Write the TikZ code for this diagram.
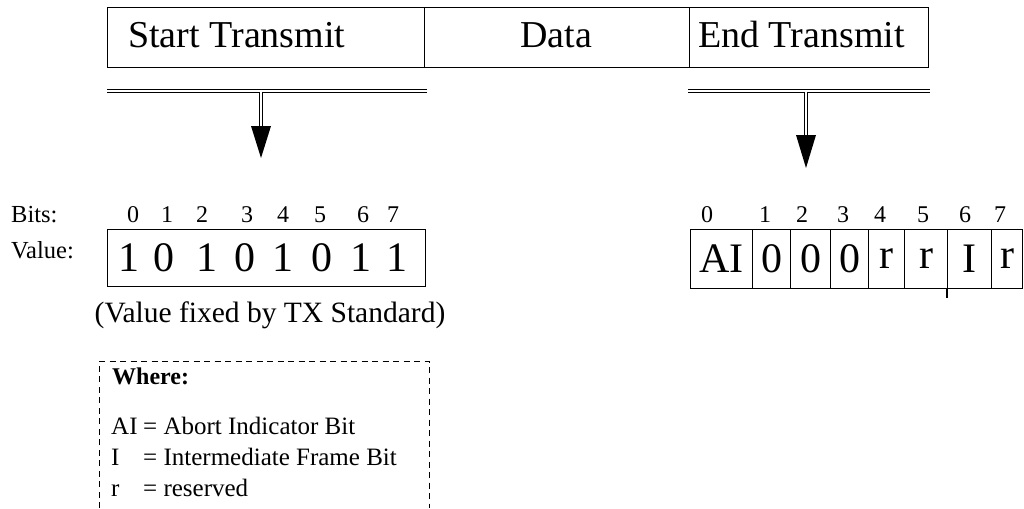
\documentclass[tikz,border=0pt]{standalone}
\usepackage{fontspec}
\setmainfont{Liberation Serif}
\begin{document}
\begin{tikzpicture}[x=1pt,y=-1pt,
  cell/.style={draw,line width=1.1pt,minimum height=60pt,inner sep=0pt,anchor=north west},
  reg/.style={draw,line width=1.1pt,inner sep=0pt,anchor=north west},
  big/.style={font=\fontsize{38}{40}\selectfont,inner sep=0pt},
  dig/.style={font=\fontsize{42}{44}\selectfont,inner sep=0pt,anchor=base},
  small/.style={font=\fontsize{24.5}{26}\selectfont,inner sep=0pt},
  bitn/.style={font=\fontsize{24}{26}\selectfont,inner sep=0pt,anchor=base},
  legend/.style={font=\fontsize{25}{27}\selectfont,inner sep=0pt,anchor=base west},
  dbl/.style={double,double distance=2.4pt,line width=0.9pt},
  tipfill/.style={fill=black}]
\useasboundingbox (0,0) rectangle (1024,508);
% top frame
\node[cell,minimum width=317pt] (st) at (107,7) {};
\node[cell,minimum width=265pt] (dt) at (424,7) {};
\node[cell,minimum width=239pt] (et) at (689,7) {};
\node[big,anchor=base west] (stl) at (128,48) {Start Transmit};
\node[big,anchor=base] (dtl) at (556,48) {Data};
\node[big,anchor=base west] (etl) at (698,48) {End Transmit};
% double lines
\coordinate (l1) at (107,91);
\coordinate (l2) at (427,91);
\coordinate (r1) at (688,91);
\coordinate (r2) at (930,91);
\draw[dbl] (l1) -- (l2);
\draw[dbl] (r1) -- (r2);
\coordinate (la) at (261,92);
\coordinate (lb) at (261,126);
\coordinate (ra) at (806,92);
\coordinate (rb) at (806,135);
\draw[dbl] (la) -- (lb);
\draw[dbl] (ra) -- (rb);
\fill[tipfill] (251,126) -- (271,126) -- (261,158) -- cycle;
\fill[tipfill] (796,135) -- (816,135) -- (806,168) -- cycle;
% left register
\node[small,anchor=base west] (bits) at (11,222) {Bits:};
\node[small,anchor=base west] (val) at (11,258) {Value:};
\node[reg,minimum width=318pt,minimum height=57pt] (vbox) at (107,229) {};
\foreach \x/\n [count=\i from 0] in {133/0,167/1,202/2,247/3,283/4,320/5,363/6,393/7}
  \node[bitn] (lb\i) at (\x,222) {\n};
\foreach \x/\v [count=\i from 0] in {129/1,164/0,207/1,245/0,283/1,322/0,361/1,397/1}
  \node[dig] (lv\i) at (\x,271) {\v};
\node[font=\fontsize{29.5}{31}\selectfont,inner sep=0pt,anchor=base] (cap) at (270,322) {(Value fixed by TX Standard)};
% right register
\foreach \x/\n [count=\i from 0] in {707/0,765/1,802/2,843/3,880/4,923/5,965/6,1000/7}
  \node[bitn] (rn\i) at (\x,222) {\n};
\foreach \a/\b/\t [count=\i from 0, evaluate=\b as \w using \b-\a] in {690/752/AI,752/790/0,790/830/0,830/868/0,868/904/r,904/947/r,947/991/I,991/1022/r}
  \node[reg,minimum width=\w pt,minimum height=59pt,font=\fontsize{42}{44}\selectfont] (rc\i) at (\a,229) {\t};
\coordinate (tk1) at (947,288);
\coordinate (tk2) at (947,298);
\draw[line width=1.1pt] (tk1) -- (tk2);
% legend
\coordinate (d1) at (99,508);
\coordinate (d2) at (99,361);
\coordinate (d3) at (429,361);
\coordinate (d4) at (429,508);
\draw[dash pattern=on 6pt off 4.5pt,line width=0.8pt] (d1) -- (d2) -- (d3) -- (d4);
\node[legend,font=\fontsize{24}{26}\selectfont\bfseries] (wh) at (112,384) {Where:};
\node[legend] (k1) at (111,434) {AI};
\node[legend] (k2) at (111,465) {I};
\node[legend] (k3) at (111,496) {r};
\node[legend] (v1) at (143,434) {= Abort Indicator Bit};
\node[legend] (v2) at (143,465) {= Intermediate Frame Bit};
\node[legend] (v3) at (143,496) {= reserved};
\end{tikzpicture}
\end{document}
